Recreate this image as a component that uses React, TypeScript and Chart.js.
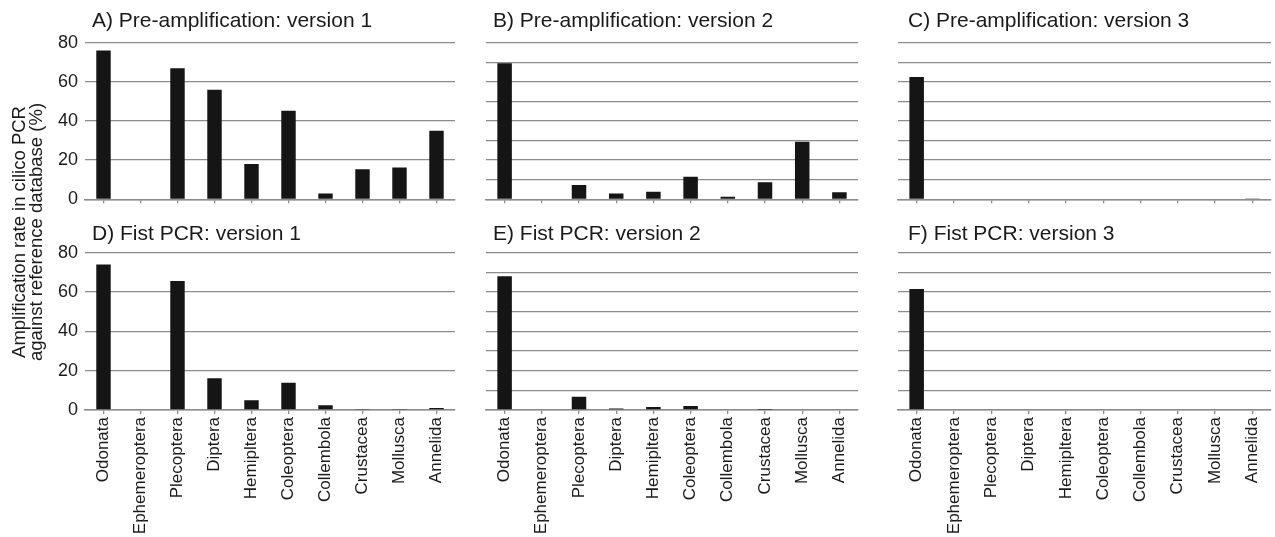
import React, { useEffect, useRef } from 'react';
import { Chart, registerables } from 'chart.js';

Chart.register(...registerables);

const FONT = "'Liberation Sans', Arial, Helvetica, sans-serif";

const categories = ['Odonata', 'Ephemeroptera', 'Plecoptera', 'Diptera', 'Hemipltera', 'Coleoptera', 'Collembola', 'Crustacea', 'Mollusca', 'Annelida'];

const preAmpV1 = [76, 0, 67, 56, 18, 45.3, 3, 15.3, 16.3, 35];
const preAmpV2 = [69.5, 0, 7.3, 3, 3.9, 11.5, 1.3, 8.7, 29.4, 3.6];
const preAmpV3 = [62.5, 0, 0, 0, 0, 0, 0, 0, 0, 0.2];
const fistV1 = [74, 0, 65.6, 16.1, 4.9, 13.9, 2.4, 0.5, 0.2, 1];
const fistV2 = [68, 0, 6.8, 0.7, 1.5, 2, 0.4, 0.1, 0, 0];
const fistV3 = [61.5, 0, 0, 0, 0, 0, 0, 0, 0, 0];

const panelTitles = [
  'A) Pre-amplification: version 1',
  'B) Pre-amplification: version 2',
  'C) Pre-amplification: version 3',
  'D) Fist PCR: version 1',
  'E) Fist PCR: version 2',
  'F) Fist PCR: version 3',
];

const yMin = 0;
const yMax = 80;
const yStep = 10;
const yLabelStep = 20;

const yTitleLines = ['Amplification rate in cilico PCR', 'against reference database (%)'];

const GRID = '#8c8c8c';
const BAR = '#151515';
const TEXT = '#1a1a1a';

type Panel = {
  title: string;
  values: number[];
  left: number;
  top: number;
  width: number;
  height: number;
  yW: number;
  padRight: number;
  padTop: number;
  padBottom: number;
  xH: number;
  showY: boolean;
  showX: boolean;
  titleX: number;
  titleY: number;
};

const cols = [
  { left: 40, width: 420, yW: 45, padRight: 5, titleX: 92 },
  { left: 466, width: 397, yW: 20, padRight: 5, titleX: 493 },
  { left: 876, width: 399, yW: 22, padRight: 4, titleX: 908 },
];
const rows = [
  { top: 20, height: 195, padTop: 22.7, padBottom: 7.7, xH: 8, showX: false, titleY: 9 },
  { top: 230, height: 307, padTop: 22.7, padBottom: 0, xH: 127, showX: true, titleY: 222 },
];
const seriesList = [preAmpV1, preAmpV2, preAmpV3, fistV1, fistV2, fistV3];

const panels: Panel[] = seriesList.map((values, i) => {
  const c = cols[i % 3];
  const r = rows[Math.floor(i / 3)];
  return {
    title: panelTitles[i],
    values,
    left: c.left,
    top: r.top,
    width: c.width,
    height: r.height,
    yW: c.yW,
    padRight: c.padRight,
    padTop: r.padTop,
    padBottom: r.padBottom,
    xH: r.xH,
    showY: i % 3 === 0,
    showX: r.showX,
    titleX: c.titleX,
    titleY: r.titleY,
  };
});

function BarPanel({ p }: { p: Panel }) {
  const ref = useRef<HTMLCanvasElement | null>(null);
  useEffect(() => {
    if (!ref.current) return;
    const chart = new Chart(ref.current, {
      type: 'bar',
      data: {
        labels: categories,
        datasets: [
          {
            data: p.values,
            backgroundColor: BAR,
            borderWidth: 0,
            barPercentage: 0.39,
            categoryPercentage: 1,
          },
        ],
      },
      options: {
        animation: false,
        responsive: false,
        maintainAspectRatio: false,
        layout: { padding: { left: 0, right: p.padRight, top: p.padTop, bottom: p.padBottom } },
        plugins: { legend: { display: false }, title: { display: false }, tooltip: { enabled: false } },
        scales: {
          x: {
            offset: true,
            grid: {
              display: true,
              drawOnChartArea: false,
              drawTicks: true,
              tickLength: 4,
              offset: false,
              color: GRID,
              lineWidth: 1.3,
            },
            border: { display: true, color: GRID, width: 1.5 },
            ticks: {
              display: p.showX,
              autoSkip: false,
              maxRotation: 90,
              minRotation: 90,
              padding: 3,
              color: TEXT,
              font: { family: FONT, size: 17 },
            },
            afterFit: (s: any) => {
              s.height = p.xH;
              s.paddingLeft = 0;
              s.paddingRight = 0;
            },
          },
          y: {
            min: yMin,
            max: yMax,
            ticks: {
              stepSize: yStep,
              display: p.showY,
              padding: 7,
              color: TEXT,
              font: { family: FONT, size: 18 },
              callback: (v: any) => (Number(v) % yLabelStep === 0 ? String(v) : ''),
            },
            grid: { color: GRID, lineWidth: 1.3, drawTicks: false },
            border: { display: false },
            afterFit: (s: any) => {
              s.width = p.yW;
              s.paddingTop = 0;
              s.paddingBottom = 0;
            },
          },
        },
      } as any,
    });
    return () => chart.destroy();
  }, [p]);
  return (
    <>
      <canvas
        ref={ref}
        width={p.width}
        height={p.height}
        style={{ position: 'absolute', left: p.left, top: p.top, width: p.width, height: p.height }}
      />
      <div
        style={{
          position: 'absolute',
          left: p.titleX,
          top: p.titleY,
          fontFamily: FONT,
          fontSize: 21,
          lineHeight: '21px',
          color: TEXT,
          whiteSpace: 'nowrap',
        }}
      >
        {p.title}
      </div>
    </>
  );
}

export default function App() {
  return (
    <div
      style={{
        position: 'absolute',
        left: 0,
        top: 0,
        width: 1275,
        height: 537,
        background: '#fff',
        overflow: 'hidden',
      }}
    >
      {panels.map((p, i) => (
        <BarPanel key={i} p={p} />
      ))}
      <div
        style={{
          position: 'absolute',
          left: 28 - 170,
          top: 232 - 17,
          width: 340,
          height: 34,
          transform: 'rotate(-90deg)',
          transformOrigin: '50% 50%',
          textAlign: 'center',
          fontFamily: FONT,
          fontSize: 18.5,
          lineHeight: '16.5px',
          color: TEXT,
          whiteSpace: 'nowrap',
        }}
      >
        {yTitleLines.map((t, i) => (
          <div key={i}>{t}</div>
        ))}
      </div>
    </div>
  );
}
